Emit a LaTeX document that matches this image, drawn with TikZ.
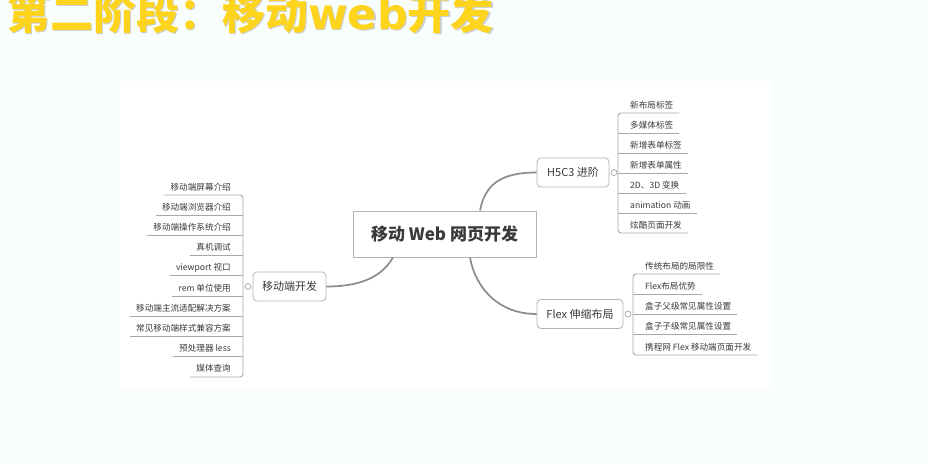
\documentclass[tikz,border=0pt]{standalone}
\usepackage{fontspec}
\setmainfont{Noto Sans CJK SC}
\newfontfamily\latinbold{DejaVu Sans}
\definecolor{bgc}{HTML}{F8FDFD}
\definecolor{titleyellow}{HTML}{FFD41C}
\definecolor{curvec}{HTML}{8C8C8C}
\definecolor{leafc}{HTML}{A8A8A8}
\definecolor{boxc}{HTML}{B4B4B4}
\definecolor{txtc}{HTML}{3A3A3A}
\begin{document}
\begin{tikzpicture}[x=1pt,y=-1pt,
  leaffont/.style={font=\fontsize{8.6}{10}\selectfont, text=txtc},
  leafL/.style={leaffont, anchor=south east, inner xsep=6pt, inner ysep=2.8pt, text height=7pt, text depth=2pt},
  leafR/.style={leaffont, anchor=south west, inner xsep=6pt, inner ysep=2.8pt, text height=7pt, text depth=2pt},
  leafline/.style={draw=leafc, line width=0.9pt},
  curve/.style={draw=curvec, line width=1.7pt},
  midbox/.style={draw=boxc, line width=0.8pt, rounded corners=4pt, fill=white, minimum height=29pt, inner xsep=4pt, font=\fontsize{11}{13}\selectfont, text=txtc},
  rootbox/.style={draw=boxc, line width=0.9pt, fill=white, minimum width=183pt, minimum height=46pt, font=\bfseries\fontsize{17}{20}\selectfont, text=txtc},
  knob/.style={circle, draw=black!40, line width=0.6pt, fill=white, inner sep=0pt, minimum size=6pt},
  titletext/.style={anchor=base west, inner sep=0pt, font=\bfseries\fontsize{43}{48}\selectfont}
]
\useasboundingbox (0,0) rectangle (928,463);
\fill[bgc] (0,0) rectangle (928,463);
\fill[white] (119,81) rectangle (770,390);

% title
\node[titletext, text=black!45, opacity=0.4] (titleshadow) at (8.5,30.5) {第二阶段：移动{\latinbold\bfseries web}开发};
\node[titletext, text=titleyellow] (title) at (7,29) {第二阶段：移动{\latinbold\bfseries web}开发};

% main nodes
\node[rootbox] (root) at (444.5,234) {移动 Web 网页开发};
\node[midbox, minimum width=72pt] (h5) at (573,172.5) {H5C3 进阶};
\node[midbox, minimum width=86pt] (flex) at (580,314) {Flex 伸缩布局};
\node[midbox, minimum width=73pt] (mob) at (289.5,286.5) {移动端开发};

% curves
\draw[curve] ([xshift=35.5pt]root.north) .. controls (485,185) and (500,172.5) .. (h5.west);
\draw[curve] ([xshift=25.5pt]root.south) .. controls (476,290) and (500,314) .. (flex.west);
\draw[curve] ([xshift=-51.5pt]root.south) .. controls (380,280) and (355,286.5) .. (mob.east);

% left leaves
\foreach \t [count=\i] in {移动端屏幕介绍,移动端浏览器介绍,移动端操作系统介绍,真机调试,viewport 视口,rem 单位使用,移动端主流适配解决方案,常见移动端样式兼容方案,预处理器 less,媒体查询}
  \node[leafL] (l\i) at (237,{195+20.22*(\i-1)}) {\t};
\foreach \i in {2,...,9}
  \draw[leafline] (l\i.south west) -- ([xshift=6pt]l\i.south east);
\draw[leafline, rounded corners=3pt] (l1.south west) -- ([xshift=6pt]l1.south east) -- ([xshift=6pt]l10.south east) -- (l10.south west);

% H5C3 leaves
\foreach \t [count=\i] in {新布局标签,多媒体标签,新增表单标签,新增表单属性,2D、3D 变换,animation 动画,炫酷页面开发}
  \node[leafR] (h\i) at (624,{113+20*(\i-1)}) {\t};
\foreach \i in {2,...,6}
  \draw[leafline] ([xshift=-6pt]h\i.south west) -- (h\i.south east);
\draw[leafline, rounded corners=3pt] (h1.south east) -- ([xshift=-6pt]h1.south west) -- ([xshift=-6pt]h7.south west) -- (h7.south east);

% Flex leaves
\foreach \t [count=\i] in {传统布局的局限性,Flex布局优势,盒子父级常见属性设置,盒子子级常见属性设置,携程网 Flex 移动端页面开发}
  \node[leafR] (f\i) at (639,{274+20.25*(\i-1)}) {\t};
\foreach \i in {2,...,4}
  \draw[leafline] ([xshift=-6pt]f\i.south west) -- (f\i.south east);
\draw[leafline, rounded corners=3pt] (f1.south east) -- ([xshift=-6pt]f1.south west) -- ([xshift=-6pt]f5.south west) -- (f5.south east);

% collapse knobs
\node[knob] (k1) at (614,172.5) {};
\node[knob] (k2) at (628,314) {};
\node[knob] (k3) at (248,286.5) {};
\end{tikzpicture}
\end{document}
